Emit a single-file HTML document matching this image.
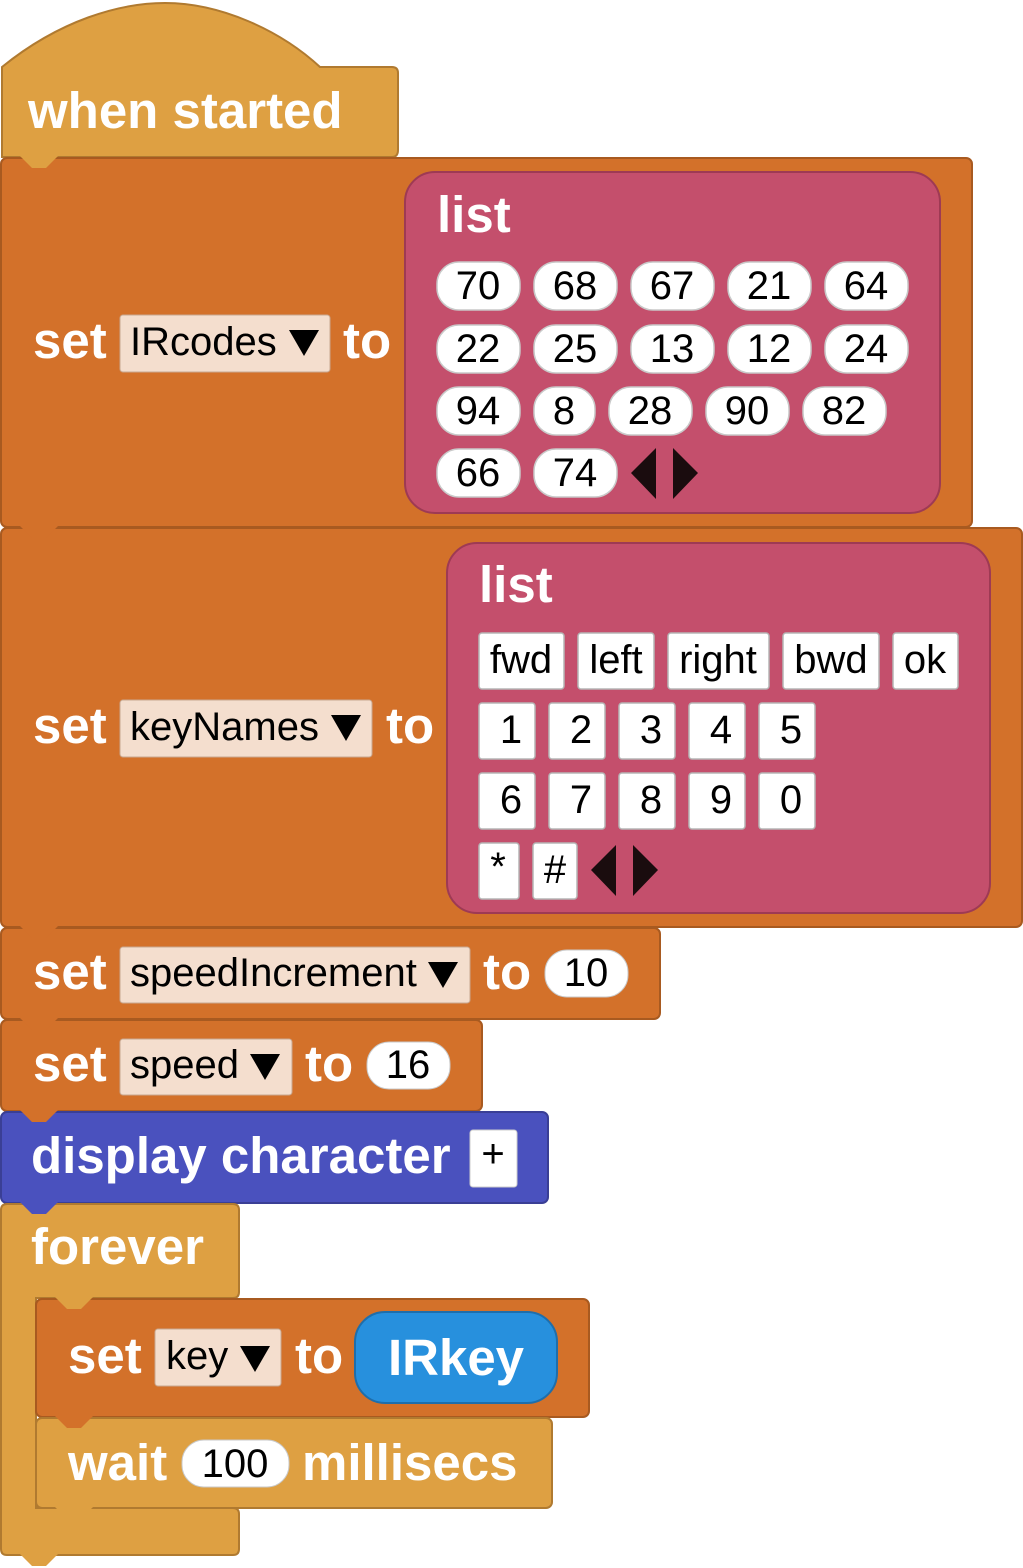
<!DOCTYPE html>
<html><head><style>
html,body{margin:0;padding:0;background:#fff;}
svg{display:block;}
.l{font-family:"Liberation Sans",sans-serif;font-weight:bold;fill:#fff;font-size:51px;}
.v{font-family:"Liberation Sans",sans-serif;fill:#000;font-size:40px;}
</style></head><body>
<svg width="1023" height="1568" viewBox="0 0 1023 1568" xmlns="http://www.w3.org/2000/svg">
<!-- hat -->
<path d="M2,67 C60,20 120,3 165,3 C220,3 280,30 320,67 L392,67 Q398,67 398,73 L398,150 Q398,157 392,157 L2,157 Z" fill="#DEA042" stroke="#B07A30" stroke-width="2"/>
<text class="l" x="28" y="128" font-size="52">when started</text>
<rect x="1" y="158" width="971" height="369" rx="6" fill="#D3712A" stroke="#A85A20" stroke-width="2"/>
<rect x="1" y="528" width="1021" height="399" rx="6" fill="#D3712A" stroke="#A85A20" stroke-width="2"/>
<rect x="1" y="928" width="659" height="91" rx="6" fill="#D3712A" stroke="#A85A20" stroke-width="2"/>
<rect x="1" y="1020" width="481" height="91" rx="6" fill="#D3712A" stroke="#A85A20" stroke-width="2"/>
<rect x="1" y="1112" width="547" height="91" rx="6" fill="#4A51BE" stroke="#3A3F95" stroke-width="2"/>
<path d="M1,1210 Q1,1204 7,1204 L233,1204 Q239,1204 239,1210 L239,1292 Q239,1298 233,1298 L36,1298 L36,1508 L233,1508 Q239,1508 239,1514 L239,1549 Q239,1555 233,1555 L7,1555 Q1,1555 1,1549 Z" fill="#DEA042" stroke="#B07A30" stroke-width="2"/>
<rect x="36" y="1299" width="553" height="118" rx="6" fill="#D3712A" stroke="#A85A20" stroke-width="2"/>
<rect x="36" y="1418" width="516" height="90" rx="6" fill="#DEA042" stroke="#B07A30" stroke-width="2"/>
<polygon points="20,156 32,168 46,168 58,156" fill="#DEA042"/>
<polygon points="20,526 32,538 46,538 58,526" fill="#D3712A"/>
<polygon points="20,926 32,938 46,938 58,926" fill="#D3712A"/>
<polygon points="20,1018 32,1030 46,1030 58,1018" fill="#D3712A"/>
<polygon points="20,1110 32,1122 46,1122 58,1110" fill="#D3712A"/>
<polygon points="20,1202 32,1214 46,1214 58,1202" fill="#4A51BE"/>
<polygon points="55,1297 67,1309 81,1309 93,1297" fill="#DEA042"/>
<polygon points="55,1416 67,1428 81,1428 93,1416" fill="#D3712A"/>
<polygon points="55,1507 67,1519 81,1519 93,1507" fill="#DEA042"/>
<polygon points="20,1554 32,1566 46,1566 58,1554" fill="#DEA042"/>

<text class="l" x="33" y="358">set</text>
<rect x="120" y="315" width="210" height="57" rx="3" fill="#F4DECE" stroke="#C9A890"/>
<text class="v" x="130" y="355">IRcodes</text>
<polygon points="289,330 319,330 304,356" fill="#000"/>
<text class="l" x="343" y="358">to</text>
<rect x="405" y="172" width="535" height="341" rx="30" fill="#C44F6C" stroke="#9E3A54" stroke-width="2"/>
<text class="l" x="437" y="232">list</text>
<g fill="#fff" stroke="#c9c9c9" stroke-width="1.5">
<rect x="437" y="262" width="83" height="48" rx="22"/><rect x="534" y="262" width="83" height="48" rx="22"/><rect x="631" y="262" width="83" height="48" rx="22"/><rect x="728" y="262" width="83" height="48" rx="22"/><rect x="825" y="262" width="83" height="48" rx="22"/>
<rect x="437" y="325" width="83" height="48" rx="22"/><rect x="534" y="325" width="83" height="48" rx="22"/><rect x="631" y="325" width="83" height="48" rx="22"/><rect x="728" y="325" width="83" height="48" rx="22"/><rect x="825" y="325" width="83" height="48" rx="22"/>
<rect x="437" y="387" width="83" height="48" rx="22"/><rect x="534" y="387" width="61" height="48" rx="22"/><rect x="609" y="387" width="83" height="48" rx="22"/><rect x="706" y="387" width="83" height="48" rx="22"/><rect x="803" y="387" width="83" height="48" rx="22"/>
<rect x="437" y="449" width="83" height="48" rx="22"/><rect x="534" y="449" width="83" height="48" rx="22"/>
</g>
<g class="v" text-anchor="middle">
<text x="478" y="299">70</text><text x="575" y="299">68</text><text x="672" y="299">67</text><text x="769" y="299">21</text><text x="866" y="299">64</text>
<text x="478" y="362">22</text><text x="575" y="362">25</text><text x="672" y="362">13</text><text x="769" y="362">12</text><text x="866" y="362">24</text>
<text x="478" y="424">94</text><text x="564" y="424">8</text><text x="650" y="424">28</text><text x="747" y="424">90</text><text x="844" y="424">82</text>
<text x="478" y="486">66</text><text x="575" y="486">74</text>
</g>
<polygon points="656,448 656,499 631,473" fill="#1a0c0e"/>
<polygon points="673,448 673,499 698,473" fill="#1a0c0e"/>

<text class="l" x="33" y="743">set</text>
<rect x="120" y="700" width="252" height="57" rx="3" fill="#F4DECE" stroke="#C9A890"/>
<text class="v" x="130" y="740">keyNames</text>
<polygon points="331,715 361,715 346,741" fill="#000"/>
<text class="l" x="386" y="743">to</text>
<rect x="447" y="543" width="543" height="370" rx="30" fill="#C44F6C" stroke="#9E3A54" stroke-width="2"/>
<text class="l" x="479" y="602">list</text>
<g fill="#fff" stroke="#b5b5b5" stroke-width="1.5">
<rect x="479" y="633" width="85" height="56" rx="3"/><rect x="578" y="633" width="76" height="56" rx="3"/><rect x="668" y="633" width="101" height="56" rx="3"/><rect x="783" y="633" width="96" height="56" rx="3"/><rect x="893" y="633" width="65" height="56" rx="3"/>
<rect x="479" y="703" width="56" height="56" rx="3"/><rect x="549" y="703" width="56" height="56" rx="3"/><rect x="619" y="703" width="56" height="56" rx="3"/><rect x="689" y="703" width="56" height="56" rx="3"/><rect x="759" y="703" width="56" height="56" rx="3"/>
<rect x="479" y="773" width="56" height="56" rx="3"/><rect x="549" y="773" width="56" height="56" rx="3"/><rect x="619" y="773" width="56" height="56" rx="3"/><rect x="689" y="773" width="56" height="56" rx="3"/><rect x="759" y="773" width="56" height="56" rx="3"/>
<rect x="479" y="843" width="40" height="56" rx="3"/><rect x="533" y="843" width="44" height="56" rx="3"/>
</g>
<g class="v" text-anchor="middle">
<text x="521" y="673">fwd</text><text x="616" y="673">left</text><text x="718" y="673">right</text><text x="831" y="673">bwd</text><text x="925" y="673">ok</text>
<text x="511" y="743">1</text><text x="581" y="743">2</text><text x="651" y="743">3</text><text x="721" y="743">4</text><text x="791" y="743">5</text>
<text x="511" y="813">6</text><text x="581" y="813">7</text><text x="651" y="813">8</text><text x="721" y="813">9</text><text x="791" y="813">0</text>
<text x="498" y="880">*</text><text x="555" y="883">#</text>
</g>
<polygon points="616,845 616,896 591,870" fill="#1a0c0e"/>
<polygon points="633,845 633,896 658,870" fill="#1a0c0e"/>

<text class="l" x="33" y="989">set</text>
<rect x="120" y="947" width="350" height="56" rx="3" fill="#F4DECE" stroke="#C9A890"/>
<text class="v" x="130" y="986">speedIncrement</text>
<polygon points="428,962 458,962 443,988" fill="#000"/>
<text class="l" x="483" y="989">to</text>
<rect x="545" y="950" width="83" height="47" rx="22" fill="#fff" stroke="#c9c9c9"/>
<text class="v" x="586" y="986" text-anchor="middle">10</text>

<text class="l" x="33" y="1081">set</text>
<rect x="120" y="1039" width="172" height="56" rx="3" fill="#F4DECE" stroke="#C9A890"/>
<text class="v" x="130" y="1078">speed</text>
<polygon points="250,1054 280,1054 265,1080" fill="#000"/>
<text class="l" x="305" y="1081">to</text>
<rect x="367" y="1042" width="83" height="47" rx="22" fill="#fff" stroke="#c9c9c9"/>
<text class="v" x="408" y="1078" text-anchor="middle">16</text>

<text class="l" x="31" y="1173">display character</text>
<rect x="470" y="1130" width="47" height="57" rx="3" fill="#fff" stroke="#ccc"/>
<text class="v" x="493" y="1167" text-anchor="middle">+</text>

<text class="l" x="31" y="1264">forever</text>

<text class="l" x="68" y="1373">set</text>
<rect x="155" y="1329" width="126" height="57" rx="3" fill="#F4DECE" stroke="#C9A890"/>
<text class="v" x="166" y="1369">key</text>
<polygon points="240,1346 270,1346 255,1372" fill="#000"/>
<text class="l" x="295" y="1373">to</text>
<rect x="355" y="1312" width="202" height="91" rx="30" fill="#2790DD" stroke="#1E6EAB" stroke-width="2"/>
<text class="l" x="456" y="1375" text-anchor="middle" font-size="54">IRkey</text>

<text class="l" x="68" y="1480">wait</text>
<rect x="182" y="1440" width="107" height="47" rx="22" fill="#fff" stroke="#c9c9c9"/>
<text class="v" x="235" y="1477" text-anchor="middle">100</text>
<text class="l" x="302" y="1480">millisecs</text>
</svg>
</body></html>
